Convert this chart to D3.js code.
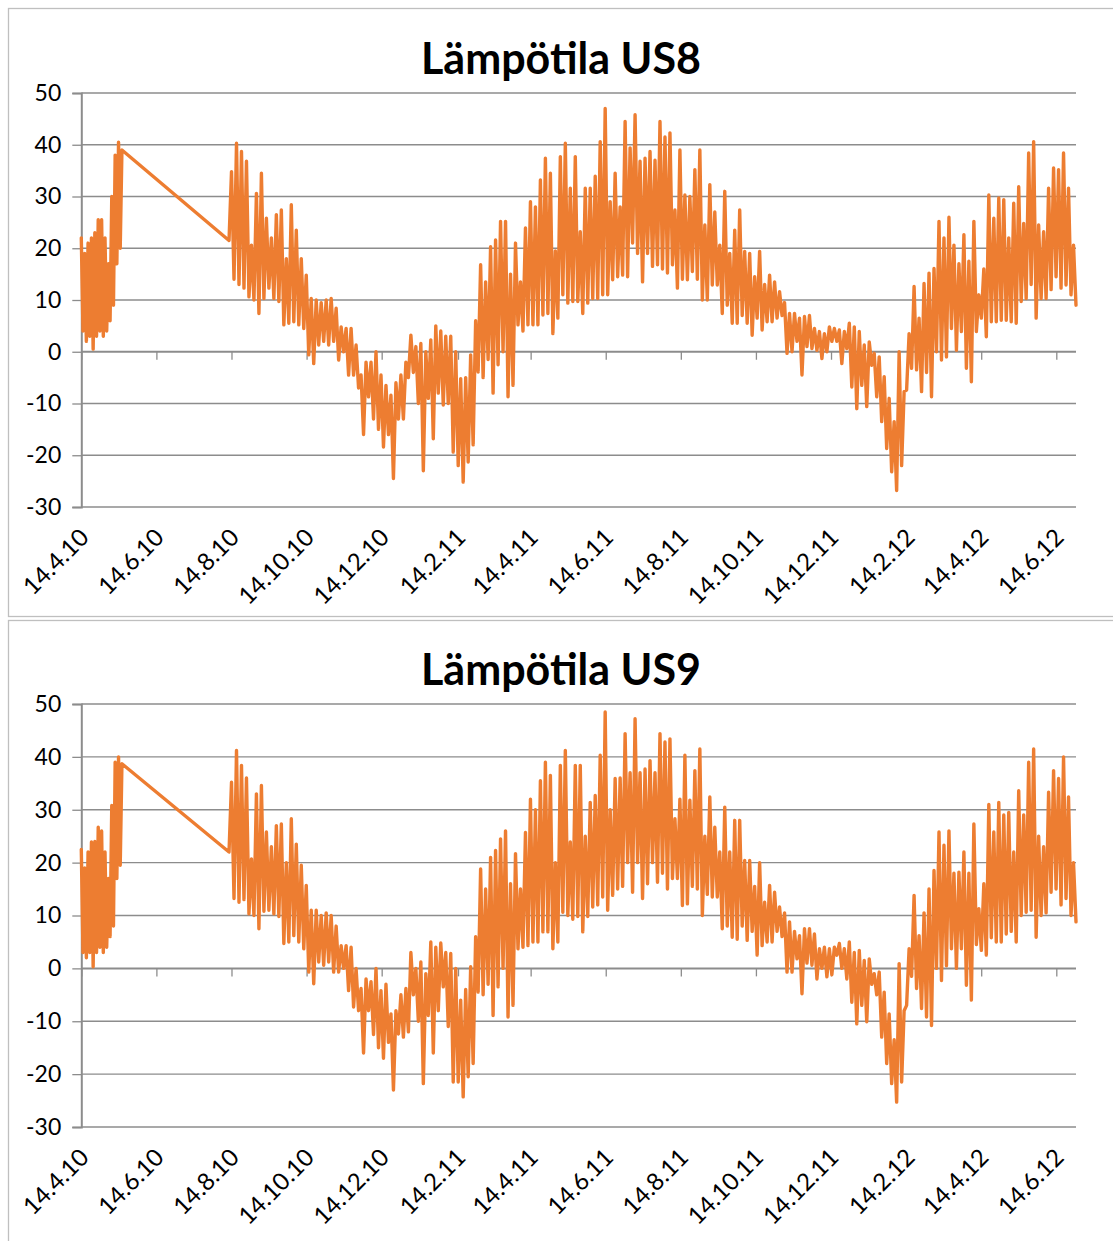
<!DOCTYPE html>
<html><head><meta charset="utf-8">
<script src="https://cdn.jsdelivr.net/npm/d3@7"></script>
<style>
body{margin:0;background:#fff}
svg{display:block}
text{font-family:Lato,"Open Sans",sans-serif;fill:#000}
</style>
</head><body>
<svg id="chart" width="1113" height="1241"></svg>
<script>
// ---- data ----
const tickLabels = ["14.4.10","14.6.10","14.8.10","14.10.10","14.12.10","14.2.11","14.4.11",
                    "14.6.11","14.8.11","14.10.11","14.12.11","14.2.12","14.4.12","14.6.12"];
const yTicks = [-30,-20,-10,0,10,20,30,40,50];
const axisRange = ["14.4.10","30.6.12"];
const springRange = ["14.4.10","17.5.10"];
const mainRange = ["12.8.10","30.6.12"];

const us8Spring2010 = [22,4,19,2,21,3,22,0.5,23,3,25.5,4,25.5,3,22,4,17,6,30,9,38,17,40.5,20,39];
const us8Main = [
 21.5,34.8,14,40.3, 13,38.7,12.3,36.8, 10.6,20.6,10,30.6, 7.4,34.5,10.3,25.8,
 12.3,22,10.3,26.5, 9.7,27.4,5.2,18, 5.5,28.4,5.8,23.5, 5.2,18,4.5,14.8,
 -0.6,10.3,-2.3,10, 1.3,9.5,2,10, 1.3,10.3,2,8.4, -1.6,4.8,0,4.5,
 -4.5,4.5,-4.5,1.3, -7,-4.5,-16,-2, -8.7,-2,-13,0, -15,-4.5,-18.4,-6.5,
 -16,-8.4,-24.5,-6, -13,-4.5,-13,-2, -5,3.2,-4,1, -10,1.6,-23,0,
 -9,2.3,-16.8,5, -8,4,-10.3,3, -10,3,-19.4,0, -22,-5.2,-25.2,-5,
 -21.3,-0.6,-18,6, -3.9,16.8,-5,13.5, -1.5,20.3,-8,21.6, -2.5,25.2,0,25.2,
 -8.7,15,-6.5,21, 5.2,13.5,4,23.9, 5.2,29,5.2,28, 5.2,33.2,7.1,37.4,
 7.4,34.5,3.5,19.5, 6.5,37.7,11,40.3, 9.4,31.6,9.7,37.7, 9.7,23.2,7.4,31.6,
 9.4,31.6,10.3,33.9, 10.3,40.6,11,47, 11,29,13.9,34.5, 14.5,28,14.8,44.5,
 14.5,39.4,21,45.8, 19,36.8,13.5,37.4, 19,38.7,16.5,37, 16.8,44.5,16,41.5,
 15.2,42.3,16.8,27.4, 12.3,39,14,30.3, 13.9,30,15.5,35.2, 14,39,10,24.5,
 10,32.3,12.9,27, 12.9,20.6,7.4,31, 9,19,5.5,23.5, 5.5,27.4,7,19.4,
 5.5,19,3.2,14.5, 6.5,19.4,4.2,13, 5.8,14.8,5.8,13.5, 6.5,11.6,7,9.5,
 -0.3,7.4,0,7.4, 2,6.5,-4.5,6.8, 1,7,0.6,4.5, 0.3,3.9,-1.3,3.5,
 0,4.8,2,4.5, 2,4.2,-2.3,3.9, 0.6,5.5,-6.8,4.8, -11,3.9,-6.5,1.3,
 -10.6,1.9,-2.6,-0.3, -8.7,-1,-13.5,-4.8, -18.7,-9,-23.2,-13.5, -26.8,0,-22,-7.7,
 -7.4,3.5,-3.2,12.6, -3.5,6.5,-7.7,13.2, -4,15.2,-8.7,16.1, 0,25.2,-1.6,22,
 -1,26,4.5,20.6, 0.3,17,3.9,22.6, -3.2,17.5,-5.8,25.2, 3.9,11,6.5,16,
 2.9,30.3,5.8,25.8, 5.8,29.7,6.1,29.4, 6.1,22,5.8,28.7, 5.5,31.9,9.7,24.8,
 10.3,38.4,13,40.6, 6.5,24.5,10.3,23.2, 10.3,31.6,12,35.5, 14.5,35.2,12.3,38.4,
 12.9,31.6,11,20.6, 9
];

const us9Spring2010 = [22.5,3,19,2,22,3,23.9,0.3,24,3,26.7,4,26,3,22,4,17,6,30.8,8,39,17,40,19.5,38.7];
const us9Main = [
 22,35.2,13.2,41.2, 12.5,38.4,13,36, 10.3,20.7,10,33, 7.5,34.6,10.8,25.8,
 11,23,10.3,27, 9.8,27.3,4.7,20, 5,28.3,6.2,23.5, 5,19.5,3.7,15.7,
 -0.7,11,-2.9,11, 1.2,10,0.6,10.5, 1.2,10,-0.7,8, -0.7,4.3,0,4.3,
 -4.2,4,-7.3,0, -8,-3.8,-16,-2, -8,-2.5,-12.5,0, -15,-4.2,-17,-3,
 -14,-8.6,-23,-8, -12.4,-5,-13,-3.8, -12,3,-5,0, -10,1.2,-21.8,-1,
 -8.9,5,-16,4, -8,4.8,-3.5,3, -11,2.8,-21.5,0, -21.5,-6,-24.3,-4,
 -20.5,0.3,-18,6, -4.5,18.8,-5,15, -3,21,-8.9,22.3, -3.5,24.5,0,26,
 -9.2,16,-7,21.7, 3.7,15,4,25.7, 4.3,32,5,30, 5,35.5,6.9,39,
 6.9,36.5,3.7,20, 5,38.4,10.6,41.2, 10,23.9,9.3,38.4, 9.8,38.4,6.9,25,
 9.8,31.4,11.6,32.7, 12,40.3,13.5,48.5, 11,30,13.8,35.9, 15,36,15.5,44.4,
 20,37,14.4,47.2, 20,37,13.2,37.7, 16,39.3,20,37, 16.3,44.4,18,42.8,
 15,43.4,17,28.3, 17,32,11.9,40.3, 12.2,31.8,15.5,37.4, 15,41.5,10,25,
 14,32.4,13.5,26.7, 13.5,22,7.5,30.5, 8,22,5.9,28, 5.5,28,8,20.4,
 5.3,20.4,7,15.5, 2.5,20,4.3,12.5, 5,15.7,5,14.4, 7,11.6,6,10.5,
 -0.7,8.8,-0.7,7, 1.8,6.2,-4.8,7.5, 1,7.5,0.6,6.5, -2,3.7,0,4,
 -1.6,3.7,-1.2,4, 2.5,4.7,0,3.7, -2,5,-6.4,3, -10.5,3.4,-7,1.5,
 -10.1,1.8,-3,-1, -5,-0.7,-13,-4.5, -18,-8.6,-21.8,-13.5, -25.3,0.9,-21.5,-8,
 -7,3.7,-1.5,13.8, -3.8,6.2,-7.6,10.5, -9.2,15,-10.8,18.5, 0,25.8,-2.3,23.3,
 0.5,26,3.7,18, 0,18.2,3.7,22, -3.2,18,-6,27.3, 4.5,11.3,3.4,16,
 2.5,31,5.8,25.8, 5,31.4,5,29, 6.5,29.5,7,22, 5,33.6,10,29,
 10.6,39,11,41.5, 5.9,25,10,23, 10.5,33.3,14.4,37.4, 15,35.9,12,40,
 13.2,32.4,10,20, 8.8
];

// ---- drawing ----
const parse = d3.timeParse("%d.%m.%y");
const fmt = d => `${d.getDate()}.${d.getMonth()+1}.${String(d.getFullYear()).slice(2)}`;
const svg = d3.select("#chart");

function spread(values, range){
  const t = d3.scaleLinear().domain([0, values.length-1])
    .range(range.map(s => parse(s).getTime()));
  return values.map((v,i) => ({date: new Date(t(i)), value: v}));
}

const panels = [
  {title:"Lämpötila US8", spring:us8Spring2010, main:us8Main, frame:[8.5,616.5], titleY:74, plot:[93,507]},
  {title:"Lämpötila US9", spring:us9Spring2010, main:us9Main, frame:[620.5,1250], titleY:685, plot:[704,1127]}
];

const xLeft = 81.3, xRight = 1076;
const x = d3.scaleTime().domain(axisRange.map(parse)).range([xLeft, xRight]);
const gridColor = "#8c8c8c";

panels.forEach(p => {
  const g = svg.append("g");
  g.append("rect").attr("x",8.5).attr("y",p.frame[0]).attr("width",1110)
    .attr("height",p.frame[1]-p.frame[0]).attr("fill","none").attr("stroke","#bfbfbf").attr("stroke-width",1.3);

  g.append("text").attr("x",561).attr("y",p.titleY).attr("text-anchor","middle")
    .attr("font-size",43).attr("font-weight","bold").text(p.title);

  const y = d3.scaleLinear().domain([-30,50]).range([p.plot[1], p.plot[0]]);

  // gridlines
  g.append("g").selectAll("line").data(yTicks).join("line")
    .attr("x1",xLeft).attr("x2",xRight).attr("y1",d=>y(d)).attr("y2",d=>y(d))
    .attr("stroke",gridColor).attr("stroke-width",d=>d===0?2:1.3);

  // y axis
  const ya = g.append("g").attr("transform",`translate(${xLeft},0)`)
    .call(d3.axisLeft(y).tickValues(yTicks).tickSize(9).tickPadding(11).tickFormat(d => String(d)));
  ya.select(".domain").attr("stroke",gridColor).attr("stroke-width",2);
  ya.selectAll(".tick line").attr("stroke",gridColor).attr("stroke-width",1.3);
  ya.selectAll("text").attr("font-size",23).attr("font-family","Lato").attr("fill","#000");

  // x axis ticks at zero line
  const tickDates = tickLabels.map(parse);
  const xa = g.append("g").attr("transform",`translate(0,${y(0)})`)
    .call(d3.axisBottom(x).tickValues(tickDates).tickSize(8).tickFormat(""));
  xa.select(".domain").remove();
  xa.selectAll(".tick line").attr("stroke",gridColor).attr("stroke-width",1.3);

  // x labels at bottom
  g.append("g").selectAll("text").data(tickDates).join("text")
    .attr("transform",d=>`translate(${x(d)+9},${p.plot[1]+32}) rotate(-45)`)
    .attr("text-anchor","end").attr("font-size",24).text(fmt);

  // series
  const pts = spread(p.spring, springRange).concat(spread(p.main, mainRange));
  const line = d3.line().x(d=>x(d.date)).y(d=>y(d.value));
  g.append("path").datum(pts).attr("d",line).attr("fill","none")
    .attr("stroke","#ED7D31").attr("stroke-width",3.4).attr("stroke-linejoin","round").attr("stroke-linecap","round");
});
</script>
</body></html>
